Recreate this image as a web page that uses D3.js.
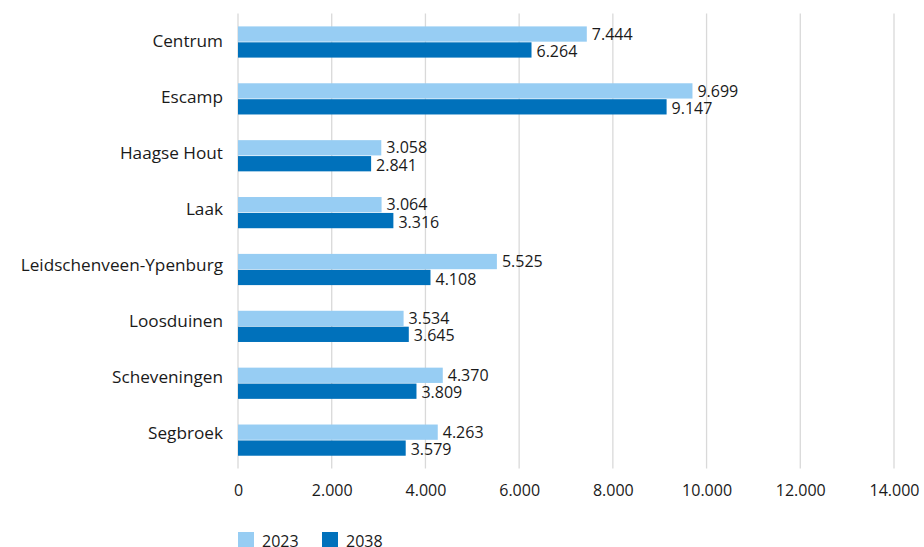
<!DOCTYPE html>
<html>
<head>
<meta charset="utf-8">
<script src="https://cdn.jsdelivr.net/npm/d3@7"></script>
<style>
  body { margin: 0; background: #fff; }
  svg { display: block; font-family: "Open Sans", "Noto Sans", sans-serif; }
</style>
</head>
<body>
<svg id="chart" width="924" height="547"></svg>
<script>
// Data
const categories = ["Centrum", "Escamp", "Haagse Hout", "Laak", "Leidschenveen-Ypenburg", "Loosduinen", "Scheveningen", "Segbroek"];
const series2023 = [7444, 9699, 3058, 3064, 5525, 3534, 4370, 4263];
const series2038 = [6264, 9147, 2841, 3316, 4108, 3645, 3809, 3579];
const xTicks = [0, 2000, 4000, 6000, 8000, 10000, 12000, 14000];
const seriesNames = ["2023", "2038"];
const colors = ["#97cdf3", "#0071bb"];

const svg = d3.select("#chart");
const plotLeft = 238, plotRight = 894, plotTop = 13.6, plotBottom = 468.6;
const textColor = "#1a1a1a";

const x = d3.scaleLinear().domain([0, 14000]).range([plotLeft, plotRight]);
const y = d3.scaleBand().domain(categories).range([plotTop, plotBottom]);
// category labels sit on a slightly tighter spacing than the bars
const yLabel = d3.scaleBand().domain(categories).range([13, 461]);
const inner = d3.scaleBand().domain(seriesNames).range([12.8, 44]).paddingInner(0.04);

const fmt = v => d3.format(",")(v).replace(/,/g, ".");

// Gridlines
svg.append("g")
  .selectAll("line")
  .data(xTicks)
  .join("line")
  .attr("x1", d => x(d)).attr("x2", d => x(d))
  .attr("y1", plotTop).attr("y2", plotBottom)
  .attr("stroke", "#d9d9d9")
  .attr("stroke-width", 1.3);

// X axis labels
const xAxis = d3.axisBottom(x).tickValues(xTicks).tickSize(0).tickPadding(0).tickFormat(fmt);
const gx = svg.append("g").attr("transform", `translate(0,${plotBottom + 16})`).call(xAxis);
gx.select(".domain").remove();
gx.selectAll("text").attr("font-size", 16).attr("fill", textColor).attr("font-family", "'Open Sans', sans-serif");

// Y axis labels
const yAxis = d3.axisLeft(yLabel).tickSize(0).tickPadding(15);
const gy = svg.append("g").attr("transform", `translate(${plotLeft},0)`).call(yAxis);
gy.select(".domain").remove();
gy.selectAll("text").attr("font-size", 17.2).attr("fill", textColor).attr("font-family", "'Open Sans', sans-serif");

// Bars
const rows = categories.map((c, i) => ({ cat: c, vals: [series2023[i], series2038[i]] }));
const grp = svg.append("g").selectAll("g")
  .data(rows)
  .join("g")
  .attr("transform", d => `translate(0,${y(d.cat)})`);

grp.selectAll("rect")
  .data(d => d.vals.map((v, j) => ({ v, s: seriesNames[j], j })))
  .join("rect")
  .attr("x", x(0))
  .attr("y", d => inner(d.s))
  .attr("width", d => x(d.v) - x(0))
  .attr("height", inner.bandwidth())
  .attr("fill", d => colors[d.j]);

grp.selectAll("text")
  .data(d => d.vals.map((v, j) => ({ v, s: seriesNames[j], j })))
  .join("text")
  .attr("x", d => x(d.v) + 5)
  .attr("y", d => inner(d.s) + inner.bandwidth() / 2 + (d.j ? 1.5 : 0))
  .attr("dy", "0.35em")
  .attr("font-size", 16)
  .attr("fill", textColor)
  .text(d => fmt(d.v));

// Legend
const legend = svg.append("g").attr("transform", "translate(238,532)");
const legendX = [0, 84];
seriesNames.forEach((s, i) => {
  const g = legend.append("g").attr("transform", `translate(${legendX[i]},0)`);
  g.append("rect").attr("width", 16).attr("height", 15).attr("fill", colors[i]);
  g.append("text").attr("x", 24).attr("y", 9).attr("dy", "0.35em")
    .attr("font-size", 16).attr("fill", textColor).text(s);
});
</script>
</body>
</html>
